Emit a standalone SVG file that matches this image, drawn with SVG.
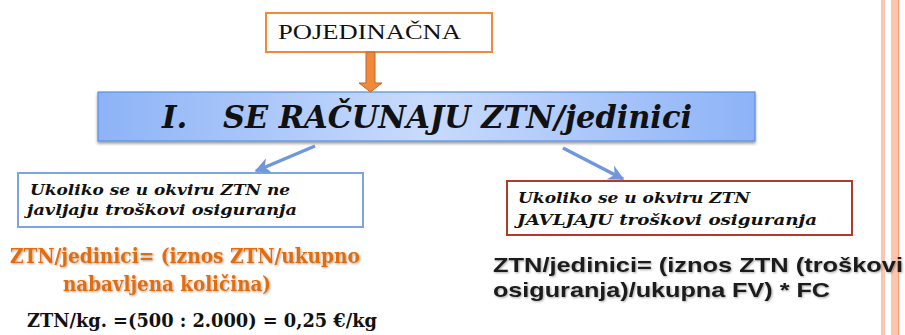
<svg xmlns="http://www.w3.org/2000/svg" width="905" height="335" viewBox="0 0 905 335">
<defs>
  <linearGradient id="barGrad" x1="0" y1="0" x2="1" y2="0">
    <stop offset="0" stop-color="#8db3f7"/>
    <stop offset="0.5" stop-color="#c9dbfc"/>
    <stop offset="1" stop-color="#8db3f7"/>
  </linearGradient>
  <filter id="shadow" x="-5%" y="-20%" width="110%" height="160%">
    <feDropShadow dx="0" dy="2" stdDeviation="1.5" flood-color="#000" flood-opacity="0.4"/>
  </filter>
  <filter id="glow" x="-5%" y="-30%" width="110%" height="160%">
    <feDropShadow dx="1" dy="1" stdDeviation="1.2" flood-color="#000" flood-opacity="0.35"/>
  </filter>
  <marker id="blueHead" viewBox="0 0 10 10" refX="9" refY="5" markerWidth="4.5" markerHeight="4.5" orient="auto" markerUnits="strokeWidth">
    <path d="M0,0 L10,5 L0,10 L3,5 Z" fill="#6f97dc"/>
  </marker>
  <style>
    .conn { stroke: #6f97dc; stroke-width: 3.5; fill: none; }
  </style>
</defs>
<rect width="905" height="335" fill="#ffffff"/>
<!-- right decorative stripes -->
<rect x="881" y="0" width="4" height="335" fill="#fcc5ae"/>
<rect x="891" y="0" width="8" height="335" fill="#fcc5ae"/>
<rect x="898" y="0" width="1.3" height="335" fill="#f5a27c"/>

<g id="node-pojedinacna">
  <rect x="266" y="13" width="226" height="39" fill="#ffffff" stroke="#f08a3a" stroke-width="2"/>
  <text x="278" y="39" font-family="'Liberation Serif', serif" font-size="21" fill="#111" textLength="183" lengthAdjust="spacingAndGlyphs">POJEDINAČNA</text>
</g>

<g id="node-title" font-family="'DejaVu Serif', serif" font-size="31" font-weight="bold" font-style="italic" fill="#111">
  <rect x="98" y="92" width="657" height="49" fill="url(#barGrad)" stroke="#5b8fe0" stroke-width="1.2" filter="url(#shadow)"/>
  <text x="162" y="128">I.</text>
  <text x="223" y="128" textLength="469" lengthAdjust="spacingAndGlyphs">SE RAČUNAJU ZTN/jedinici</text>
</g>

<g id="node-left" font-family="'DejaVu Serif', serif" font-size="15.5" font-weight="bold" font-style="italic" fill="#111">
  <rect x="18" y="173" width="345" height="54" fill="#ffffff" stroke="#7ea3e2" stroke-width="2"/>
  <text x="30" y="195" textLength="260" lengthAdjust="spacingAndGlyphs">Ukoliko se u okviru ZTN ne</text>
  <text x="27" y="215" textLength="270" lengthAdjust="spacingAndGlyphs">javljaju troškovi osiguranja</text>
</g>

<g id="node-right" font-family="'DejaVu Serif', serif" font-size="15.5" font-weight="bold" font-style="italic" fill="#111">
  <rect x="507" y="181" width="345" height="54" fill="#ffffff" stroke="#b23a2c" stroke-width="2"/>
  <text x="518" y="203" textLength="232" lengthAdjust="spacingAndGlyphs">Ukoliko se u okviru ZTN</text>
  <text x="517" y="225" textLength="300" lengthAdjust="spacingAndGlyphs">JAVLJAJU troškovi osiguranja</text>
</g>

<g id="node-formula-left" font-family="'DejaVu Serif', serif" font-size="20" font-weight="bold" fill="#e36c0a" filter="url(#glow)">
  <text x="10" y="263" textLength="350" lengthAdjust="spacingAndGlyphs">ZTN/jedinici= (iznos ZTN/ukupno</text>
  <text x="63" y="291" textLength="208" lengthAdjust="spacingAndGlyphs">nabavljena količina)</text>
</g>

<g id="node-example" font-family="'DejaVu Serif', serif" font-size="18" font-weight="bold" fill="#111">
  <text x="27" y="327" textLength="350" lengthAdjust="spacingAndGlyphs">ZTN/kg. =(500 : 2.000) = 0,25 €/kg</text>
</g>

<g id="node-formula-right" font-family="'Liberation Sans', Arial, sans-serif" font-size="21" font-weight="bold" fill="#1a1a1a" filter="url(#glow)">
  <text x="493" y="272" textLength="410" lengthAdjust="spacingAndGlyphs">ZTN/jedinici= (iznos ZTN (troškovi</text>
  <text x="493" y="297" textLength="337" lengthAdjust="spacingAndGlyphs">osiguranja)/ukupna FV) * FC</text>
</g>

<g id="connectors">
  <path d="M366,52 L375,52 L375,83 L382,83 L370.5,92 L359,83 L366,83 Z" fill="#f08a3a" stroke="#c0642a" stroke-width="1"/>
  <line class="conn" x1="315" y1="146" x2="256" y2="171" marker-end="url(#blueHead)"/>
  <line class="conn" x1="563" y1="148" x2="623" y2="179" marker-end="url(#blueHead)"/>
</g>
</svg>
